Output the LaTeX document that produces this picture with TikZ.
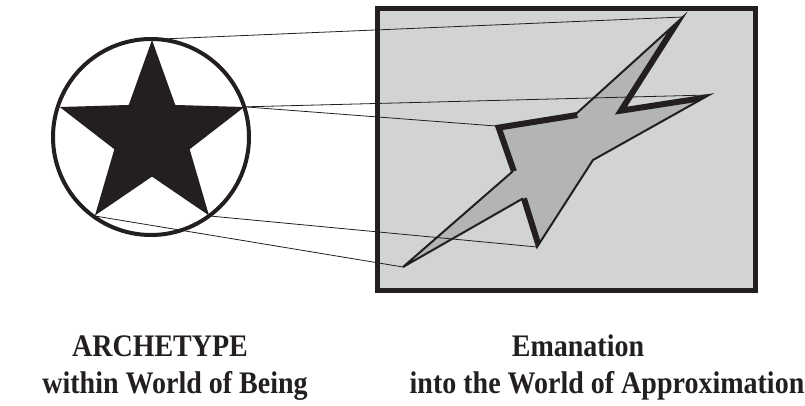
\documentclass[tikz,border=0pt]{standalone}
\usepackage{fontspec}
\setmainfont{Liberation Serif}
\usetikzlibrary{shapes.geometric}
\definecolor{ink}{HTML}{231F20}
\definecolor{paper}{HTML}{D1D3D4}
\definecolor{boltgray}{HTML}{B3B4B6}
\newcommand\tallcap[1]{\scalebox{1}[1.12]{#1}}
\begin{document}
\begin{tikzpicture}[x=1pt, y=-1pt,
    link/.style={line width=0.8pt, ink},
    caption/.style={anchor=base, inner sep=0, font=\fontsize{28}{34}\selectfont\bfseries, text=ink}]
  \useasboundingbox (0,0) rectangle (805,406);

  % archetype
  \node[star, star points=5, star point ratio=2.45, minimum size=194pt, inner sep=0, fill=ink] (arch) at (152,137) {};
  \node[circle, draw=ink, line width=4pt, minimum size=196pt, inner sep=0] (ring) at (151,137) {};

  % world of approximation
  \node[rectangle, draw=ink, line width=5pt, fill=paper, minimum width=378pt, minimum height=282pt, inner sep=0] (world) at (566.5,149.5) {};

  \coordinate (ta) at (683,17);
  \coordinate (na) at (625,108);
  \coordinate (tb) at (709,95);
  \coordinate (nb) at (593,160);
  \coordinate (tc) at (537,247);
  \coordinate (nc) at (522,199);
  \coordinate (td) at (403,267);
  \coordinate (nd) at (512,172);
  \coordinate (te) at (496,126);
  \coordinate (ne) at (577,113);

  \fill[boltgray] (ta) -- (na) -- (tb) -- (nb) -- (tc) -- (nc) -- (td) -- (nd) -- (te) -- (ne) -- cycle;
  \begin{scope}
    \clip (ta) -- (na) -- (tb) -- (nb) -- (tc) -- (nc) -- (td) -- (nd) -- (te) -- (ne) -- cycle;
    \draw[ink, line width=10pt, line join=miter] (ta) -- (na) -- (tb);
    \draw[ink, line width=10pt] (nc) -- (tc);
    \draw[ink, line width=10pt, line join=miter] (nd) -- (te) -- (ne);
  \end{scope}
  \draw[ink, line width=2pt, line join=miter] (ta) -- (na) -- (tb) -- (nb) -- (tc) -- (nc) -- (td) -- (nd) -- (te) -- (ne) -- cycle;

  % emanation lines
  \draw[link] (arch.outer point 1) -- (ta);
  \draw[link] (arch.outer point 5) -- (tb);
  \draw[link] (arch.outer point 5) -- (te);
  \draw[link] (arch.outer point 4) -- (tc);
  \draw[link] (arch.outer point 3) -- (td);

  % captions
  \node[caption] (arctitle) at (160,356) {\tallcap{ARCHETYPE}};
  \node[caption] (arcsub) at (175,393) {\tallcap{within World of Being}};
  \node[caption] (emtitle) at (578,356) {\tallcap{Emanation}};
  \node[caption] (emsub) at (607,393) {\tallcap{into the World of Approximation}};
\end{tikzpicture}
\end{document}
